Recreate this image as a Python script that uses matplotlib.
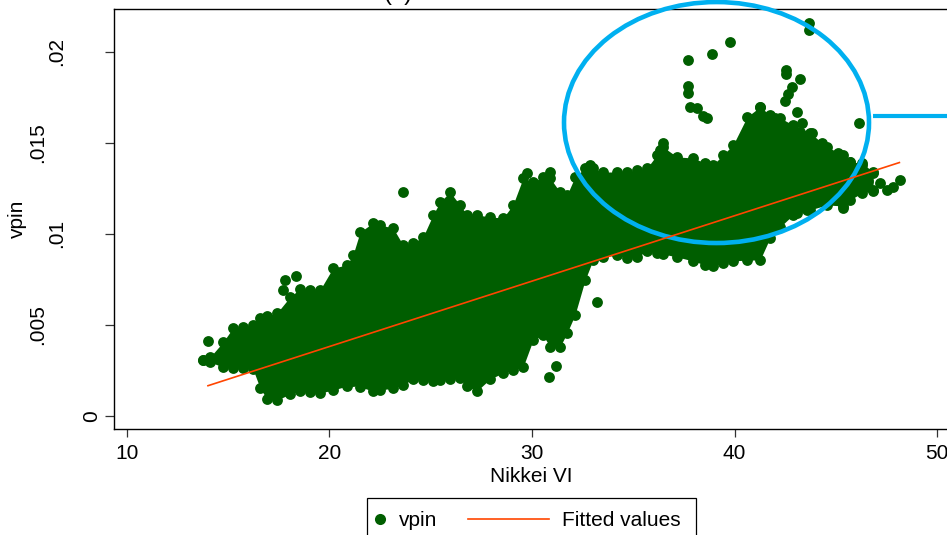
import numpy as np
import matplotlib
matplotlib.use('Agg')
import matplotlib.pyplot as plt
from matplotlib.patches import Ellipse, Rectangle
from matplotlib.lines import Line2D
from matplotlib import transforms

plt.rcParams['font.family'] = ['Liberation Sans', 'DejaVu Sans']

# vpin against Nikkei VI: the dense cloud as lower/upper edge per VI value (vpin in 1e-3)
nvi_env = np.array([13.75, 14.10, 14.74, 15.23, 15.73, 16.22, 16.57, 16.91, 17.41, 18.05,
                    18.54, 19.04, 19.53, 20.17, 20.86, 21.16, 21.51, 22.15, 22.49, 23.14,
                    23.63, 24.12, 24.62, 25.11, 25.46, 25.95, 26.44, 26.79, 27.28, 27.93,
                    28.57, 29.06, 29.56, 30.05, 30.54, 30.89, 31.38, 31.73, 32.12, 32.62,
                    33.01, 33.51, 34.20, 34.69, 35.19, 35.68, 36.17, 36.47, 37.16, 37.95,
                    38.54, 38.94, 39.43, 39.93, 40.62, 41.26, 41.75, 42.25, 42.89, 43.73,
                    44.57, 45.36, 45.70, 46.30, 46.84])
vpin_hi = np.array([3.06, 3.22, 4.04, 4.82, 4.88, 4.99, 5.37, 5.48, 5.65, 6.53,
                    6.97, 6.91, 6.91, 8.12, 8.29, 8.84, 10.10, 10.60, 10.49, 10.32,
                    9.39, 9.50, 9.83, 11.04, 11.75, 12.30, 11.59, 11.04, 11.04, 10.93,
                    10.87, 11.59, 13.07, 12.85, 13.13, 13.07, 12.30, 12.14, 13.13, 13.62,
                    13.62, 13.40, 13.40, 13.40, 13.51, 13.62, 14.34, 14.78, 14.23, 14.17,
                    13.90, 13.79, 14.34, 14.89, 16.43, 16.98, 16.54, 16.37, 15.99, 15.55,
                    14.78, 14.34, 13.95, 13.90, 13.40]) * 1e-3
vpin_lo = np.array([3.06, 2.95, 2.68, 2.62, 2.62, 2.57, 1.52, 0.92, 0.86, 1.19,
                    1.36, 1.30, 1.25, 1.41, 1.63, 1.91, 1.58, 1.36, 1.41, 1.52,
                    1.69, 2.02, 1.96, 1.91, 1.96, 2.02, 2.07, 1.63, 1.36, 2.02,
                    2.35, 2.51, 2.68, 4.16, 4.44, 3.78, 3.78, 4.55, 5.54, 7.46,
                    8.56, 8.73, 8.84, 8.67, 8.73, 9.06, 8.95, 8.89, 8.73, 8.51,
                    8.29, 8.23, 8.40, 8.51, 8.56, 8.56, 9.77, 10.38, 11.04, 11.32,
                    11.59, 11.53, 11.87, 12.25, 12.36]) * 1e-3

# scattered observations outside the dense cloud
nvi_pts = np.array([14.00, 17.80, 18.35, 17.70, 23.63, 33.21, 30.84, 31.19,
                    37.70, 38.89, 39.78, 43.68, 43.68, 37.70, 37.70, 37.80, 38.15, 38.44, 38.64,
                    42.52, 42.52, 43.21, 42.86, 42.62, 42.47, 42.02, 43.09, 46.15, 41.26,
                    43.33, 43.83, 44.32, 45.11, 45.11, 45.70, 46.30, 46.84, 47.53, 48.17,
                    47.83, 46.84, 45.36, 43.58, 43.09, 36.47, 36.32, 32.86, 29.75, 30.89,
                    42.89, 43.23, 47.20, 46.60])
vpin_pts = np.array([4.11, 7.46, 7.68, 6.91, 12.30, 6.25, 2.13, 2.73,
                     19.56, 19.89, 20.55, 21.60, 21.21, 18.13, 17.75, 16.98, 16.92, 16.48, 16.37,
                     19.01, 18.79, 18.52, 18.08, 17.69, 17.31, 16.37, 16.70, 16.10, 16.98,
                     16.10, 15.55, 15.00, 14.45, 13.68, 13.95, 13.79, 13.35, 12.41, 12.96,
                     12.57, 12.41, 11.42, 11.31, 11.15, 15.00, 14.61, 13.79, 13.35, 13.40,
                     15.93, 15.60, 12.80, 12.90]) * 1e-3

# linear fit endpoints
fit_x = [14.0, 48.14]
fit_y = [0.00165, 0.01392]

xticks = [10, 20, 30, 40, 50]
yticks = [0, 0.005, 0.01, 0.015, 0.02]
ytick_labels = ['0', '.005', '.01', '.015', '.02']

green = '#005E00'
red = '#FF4500'
blue = '#00B0F0'

W, H = 947, 535
fig = plt.figure(figsize=(W / 100, H / 100), dpi=100)
ax = fig.add_axes([114 / W, 1 - 429 / H, (949 - 114) / W, (429 - 8.5) / H])
ax.set_xlim(9.36, 50.59)
ax.set_ylim(-0.00073, 0.02239)

ax.fill_between(nvi_env, vpin_lo, vpin_hi, color=green, lw=0, zorder=2)
ms = 7.8
ax.plot(nvi_env, vpin_hi, 'o', color=green, ms=ms, mew=0, zorder=2)
ax.plot(nvi_env, vpin_lo, 'o', color=green, ms=ms, mew=0, zorder=2)
ax.plot(nvi_pts, vpin_pts, 'o', color=green, ms=ms, mew=0, zorder=2)

ax.plot(fit_x, fit_y, color=red, lw=1.2, zorder=4)

# highlight of the high-VI regime
ax.add_patch(Ellipse((39.11, 0.01612), 15.06, 0.01325, fill=False, ec=blue, lw=3.3,
                     clip_on=False, zorder=3))
ax.plot([46.85, 52], [0.01648, 0.01648], color=blue, lw=3, clip_on=False,
        solid_capstyle='butt', zorder=3)

for s in ax.spines.values():
    s.set_linewidth(1.0)
ax.set_xticks(xticks)
ax.set_yticks(yticks)
ax.tick_params(axis='x', direction='out', length=6, width=0.9, color='#333333',
               labelsize=15, pad=4.5)
ax.tick_params(axis='y', direction='out', length=6.5, width=0.9, color='#333333',
               labelleft=False)

ytr = transforms.blended_transform_factory(fig.transFigure, ax.transData)
base_x = [97, 43, 62, 43, 62]
for v, lab, bx in zip(yticks, ytick_labels, base_x):
    ax.text(bx / W, v, lab, transform=ytr, rotation=90, rotation_mode='anchor',
            ha='center', va='baseline', fontsize=15)

ax.set_xlabel('Nikkei VI', fontsize=15)
ax.xaxis.label.set_va('baseline')
ax.xaxis.set_label_coords((531.5 - 114) / 835, (429 - 482) / 420.5)
ax.set_ylabel('vpin', fontsize=15)
ax.yaxis.label.set_va('baseline')
ax.yaxis.set_label_coords((23 - 114) / 835, 0.5)

fig.text(398 / W, 1.0, '(b)', ha='center', va='baseline', fontsize=17)

# legend box at the bottom
fig.add_artist(Rectangle((367 / W, 1 - 560 / H), 329 / W, 62 / H, transform=fig.transFigure,
                         fill=False, ec='black', lw=0.9, clip_on=False))
fig.add_artist(Line2D([380 / W], [1 - 519 / H], marker='o', color=green, ms=8, mew=0,
                      transform=fig.transFigure))
fig.text(399 / W, 1 - 526.5 / H, 'vpin', ha='left', va='baseline', fontsize=15)
fig.add_artist(Line2D([468 / W, 549 / W], [1 - 518.7 / H] * 2, color=red, lw=1.2,
                      transform=fig.transFigure))
fig.text(562 / W, 1 - 526.5 / H, 'Fitted values', ha='left', va='baseline', fontsize=15)

fig.savefig('out.png', dpi=100)
